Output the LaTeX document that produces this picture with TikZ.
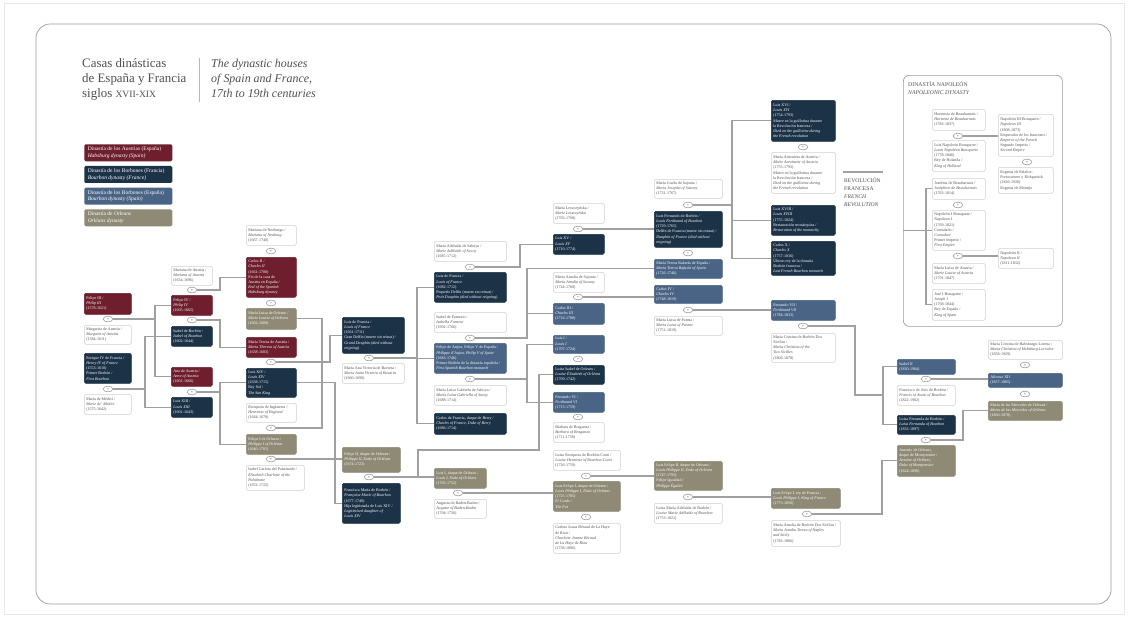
\documentclass[tikz,border=0pt]{standalone}
\usepackage{fontspec}
\setmainfont{Liberation Serif}
\newfontfamily\symfont{DejaVu Sans}
\usetikzlibrary{shapes.geometric,arrows.meta}
\definecolor{habs}{HTML}{6E1E2D}
\definecolor{bourf}{HTML}{1C3247}
\definecolor{bours}{HTML}{4A6485}
\definecolor{orlc}{HTML}{8F8A76}
\definecolor{cardline}{HTML}{D0D0D0}
\definecolor{cardtext}{HTML}{505050}
\definecolor{linkc}{HTML}{A0A0A0}
\definecolor{framec}{HTML}{9C9C9C}
\tikzset{
  card/.style={rectangle, rounded corners=1.2pt, inner sep=0pt, line width=0.45pt},
  hab/.style={card, fill=habs, draw=habs, text=white},
  bfr/.style={card, fill=bourf, draw=bourf, text=white},
  bes/.style={card, fill=bours, draw=bours, text=white},
  orl/.style={card, fill=orlc, draw=orlc, text=white},
  wht/.style={card, fill=white, draw=cardline, text=cardtext},
  lbl/.style={draw=none, fill=none, inner sep=0pt, anchor=west, align=left, font=\fontsize{3.45}{4.45}\selectfont},
  ring/.style={ellipse, draw=linkc, fill=white, line width=0.55pt, minimum width=0.29cm, minimum height=0.17cm, inner sep=0pt, text=linkc, font=\symfont\fontsize{3.2}{3.2}\selectfont},
  link/.style={draw=linkc, line width=1.05pt}
}
% one person: name, style, x1, y1, x2, y2, text
\def\famcard#1#2#3#4#5#6#7{
  \node[#2, anchor=north west, minimum width={(#5-#3)*0.03cm}, minimum height={(#6-#4)*0.03cm}] (#1) at (#3,#4) {};
  \node[#2, lbl] at ([xshift=1.7pt]#1.west) {#7};
}
\begin{document}
\begin{tikzpicture}[x=0.03cm, y=-0.03cm]
  \useasboundingbox (0,0) rectangle (1128,617);
  \fill[white] (0,0) rectangle (1128,617);
  \draw[gray!18, line width=0.5pt] (4,3) rectangle (1124,614);
  \draw[framec, line width=0.6pt, rounded corners=12pt] (36,24) rectangle (1111,604);

  % title
  \node[anchor=north west, align=left, inner sep=0pt, text=cardtext, font=\fontsize{11}{12.8}\selectfont] (titlees) at (82,58)
    {Casas dinásticas\\ de España y Francia\\ siglos {\fontsize{8.2}{8}\selectfont XVII-XIX}};
  \draw[cardline!70!gray, line width=0.6pt] (199,58) -- (199,102);
  \node[anchor=north west, align=left, inner sep=0pt, text=cardtext, font=\fontsize{10.2}{12.8}\selectfont\itshape] (titleen) at (211,59)
    {The dynastic houses\\ of Spain and France,\\ 17th to 19th centuries};

  % legend
  \foreach \c/\es/\en [count=\i] in {habs/Dinastía de los Austrias (España)/Habsburg dynasty (Spain),
      bourf/Dinastía de los Borbones (Francia)/Bourbon dynasty (France),
      bours/Dinastía de los Borbones (España)/Bourbon dynasty (Spain),
      orlc/Dinastía de Orleans/Orléans dynasty} {
    \node[card, fill=\c, anchor=north west, minimum width=88*0.03cm, minimum height=17*0.03cm] (leg\i) at (84,{144+(\i-1)*21.7}) {};
    \node[lbl, text=white, font=\fontsize{4.7}{5.8}\selectfont] at ([xshift=3pt]leg\i.west) {\es\\ \textit{\en}};
  }

  % Austrias and first Bourbons
  \famcard{fIII}{hab}{84}{293}{131}{314}{Felipe III /\\ \textit{Philip III}\\ (1578-1621)}
  \famcard{marg}{wht}{84}{325}{131}{344}{Margarita de Austria /\\ \textit{Margaret of Austria}\\ (1584-1611)}
  \famcard{enrIV}{bfr}{84}{353}{131}{383}{Enrique IV de Francia /\\ \textit{Henry IV of France}\\ (1553-1610)\\ Primer Borbón /\\ \textit{First Bourbon}}
  \famcard{medici}{wht}{84}{394}{131}{414}{María de Médici /\\ \textit{Marie de' Medici}\\ (1575-1642)}

  \famcard{mariana}{wht}{171}{266}{212}{285}{Mariana de Austria /\\ \textit{Mariana of Austria}\\ (1634-1696)}
  \famcard{fIV}{hab}{171}{295}{212}{315}{Felipe IV /\\ \textit{Philip IV}\\ (1605-1665)}
  \famcard{isabel}{bfr}{171}{326}{212}{346}{Isabel de Borbón /\\ \textit{Isabel of Bourbon}\\ (1602-1644)}
  \famcard{ana}{hab}{171}{367}{212}{386}{Ana de Austria /\\ \textit{Anne of Austria}\\ (1601-1666)}
  \famcard{lXIII}{bfr}{171}{397}{212}{417}{Luis XIII /\\ \textit{Louis XIII}\\ (1601-1643)}

  \famcard{neoburgo}{wht}{246}{225}{296}{245}{Mariana de Neoburgo /\\ \textit{Mariana of Neuburg}\\ (1667-1740)}
  \famcard{cII}{hab}{246}{257}{296}{297}{Carlos II /\\ \textit{Charles II}\\ (1661-1700)\\ Fin de la casa de\\ Austria en España /\\ \textit{End of the Spanish}\\ \textit{Habsburg dynasty}}
  \famcard{mlorl}{orl}{246}{308}{296}{329}{María Luisa de Orleans /\\ \textit{Marie Louise of Orléans}\\ (1662-1689)}
  \famcard{mteresa}{hab}{246}{337}{296}{357}{María Teresa de Austria /\\ \textit{Maria Theresa of Austria}\\ (1638-1683)}
  \famcard{lXIV}{bfr}{246}{368}{296}{397}{Luis XIV /\\ \textit{Louis XIV}\\ (1638-1715)\\ Rey Sol /\\ \textit{The Sun King}}
  \famcard{enriqueta}{wht}{246}{403}{296}{422}{Enriqueta de Inglaterra /\\ \textit{Henrietta of England}\\ (1644-1670)}
  \famcard{fOrl}{orl}{246}{434}{296}{454}{Felipe I de Orleans /\\ \textit{Philippe I of Orléans}\\ (1640-1701)}
  \famcard{palat}{wht}{246}{465}{304}{490}{Isabel Carlota del Palatinado /\\ \textit{Elizabeth Charlotte of the}\\ \textit{Palatinate}\\ (1652-1722)}

  \famcard{gdelfin}{bfr}{342}{317}{404}{353}{Luis de Francia /\\ \textit{Louis of France}\\ (1661-1711)\\ Gran Delfín (muere sin reinar) /\\ \textit{Grand Dauphin (died without}\\ \textit{reigning)}}
  \famcard{baviera}{wht}{342}{363}{404}{383}{María Ana Victoria de Baviera /\\ \textit{Maria Anna Victoria of Bavaria}\\ (1660-1690)}
  \famcard{fIIorl}{orl}{342}{447}{400}{472}{Felipe II, duque de Orleans /\\ \textit{Philippe II, Duke of Orléans}\\ (1674-1723)}
  \famcard{francisca}{bfr}{342}{483}{400}{523}{Francisca María de Borbón /\\ \textit{Françoise Marie of Bourbon}\\ (1677-1749)\\ Hija legitimada de Luis XIV /\\ \textit{Legitimised daughter of}\\ \textit{Louis XIV}}

  % Bourbons of France and Spain
  \famcard{adelaida}{wht}{434}{241}{506}{261}{María Adelaida de Saboya /\\ \textit{Marie Adélaïde of Savoy}\\ (1685-1712)}
  \famcard{borgona}{bfr}{434}{272}{506}{302}{Luis de Francia /\\ \textit{Louis of France}\\ (1682-1712)\\ Pequeño Delfín (muere sin reinar) /\\ \textit{Petit Dauphin (died without reigning)}}
  \famcard{farnesio}{wht}{434}{312}{506}{332}{Isabel de Farnesio /\\ \textit{Isabella Farnese}\\ (1692-1766)}
  \famcard{fV}{bes}{434}{343}{506}{373}{Felipe de Anjou, Felipe V de España /\\ \textit{Philippe d'Anjou, Philip V of Spain}\\ (1683-1746)\\ Primer Borbón de la dinastía española /\\ \textit{First Spanish Bourbon monarch}}
  \famcard{gabriela}{wht}{434}{385}{506}{405}{María Luisa Gabriela de Saboya /\\ \textit{Maria Luisa Gabriella of Savoy}\\ (1688-1714)}
  \famcard{berry}{bfr}{434}{413}{506}{434}{Carlos de Francia, duque de Berry /\\ \textit{Charles of France, Duke of Berry}\\ (1686-1714)}
  \famcard{lIorl}{orl}{434}{468}{486}{488}{Luis I, duque de Orleans /\\ \textit{Louis I, Duke of Orléans}\\ (1703-1752)}
  \famcard{baden}{wht}{434}{499}{486}{518}{Augusta de Baden-Baden /\\ \textit{Auguste of Baden-Baden}\\ (1704-1726)}

  \famcard{leszczynska}{wht}{553}{203}{604}{223}{María Leszczyńska /\\ \textit{Marie Leszczyńska}\\ (1703-1768)}
  \famcard{lXV}{bfr}{553}{234}{604}{254}{Luis XV /\\ \textit{Louis XV}\\ (1710-1774)}
  \famcard{amalia}{wht}{553}{272}{604}{292}{María Amalia de Sajonia /\\ \textit{Maria Amalia of Saxony}\\ (1724-1760)}
  \famcard{cIII}{bes}{553}{303}{604}{324}{Carlos III /\\ \textit{Charles III}\\ (1716-1788)}
  \famcard{lI}{bes}{553}{335}{604}{353}{Luis I /\\ \textit{Louis I}\\ (1707-1724)}
  \famcard{lisabel}{bfr}{553}{365}{604}{384}{Luisa Isabel de Orleans /\\ \textit{Louise Élisabeth of Orléans}\\ (1709-1742)}
  \famcard{fVI}{bes}{553}{392}{604}{412}{Fernando VI /\\ \textit{Ferdinand VI}\\ (1713-1759)}
  \famcard{braganza}{wht}{553}{422}{604}{442}{Bárbara de Braganza /\\ \textit{Barbara of Braganza}\\ (1711-1758)}
  \famcard{conti}{wht}{553}{450}{620}{470}{Luisa Enriqueta de Borbón-Conti /\\ \textit{Louise Henriette of Bourbon-Conti}\\ (1726-1759)}
  \famcard{lfI}{orl}{553}{481}{620}{511}{Luis Felipe I, duque de Orleans /\\ \textit{Louis Philippe I, Duke of Orléans}\\ (1725-1785)\\ El Gordo /\\ \textit{The Fat}}
  \famcard{montesson}{wht}{553}{523}{620}{553}{Carlota Juana Béraud de La Haye\\ de Riou /\\ \textit{Charlotte Jeanne Béraud}\\ \textit{de La Haye de Riou}\\ (1738-1806)}

  \famcard{josefa}{wht}{654}{179}{722}{198}{María Josefa de Sajonia /\\ \textit{Maria Josepha of Saxony}\\ (1731-1767)}
  \famcard{lfernando}{bfr}{654}{211}{722}{247}{Luis Fernando de Borbón /\\ \textit{Louis Ferdinand of Bourbon}\\ (1729-1765)\\ Delfín de Francia (muere sin reinar) /\\ \textit{Dauphin of France (died without}\\ \textit{reigning)}}
  \famcard{mtrafaela}{bes}{654}{259}{722}{278}{María Teresa Rafaela de España /\\ \textit{Maria Teresa Rafaela of Spain}\\ (1726-1746)}
  \famcard{cIV}{bes}{654}{285}{722}{303}{Carlos IV /\\ \textit{Charles IV}\\ (1748-1819)}
  \famcard{parma}{wht}{654}{316}{722}{335}{María Luisa de Parma /\\ \textit{Maria Luisa of Parma}\\ (1751-1819)}
  \famcard{lfII}{orl}{654}{461}{722}{490}{Luis Felipe II, duque de Orleans /\\ \textit{Louis Philippe II, Duke of Orléans}\\ (1747-1793)\\ Felipe Igualdad /\\ \textit{Philippe Égalité}}
  \famcard{penthievre}{wht}{654}{503}{722}{523}{Luisa María Adelaida de Borbón /\\ \textit{Louise Marie Adélaïde of Bourbon}\\ (1753-1821)}

  \famcard{lXVI}{bfr}{771}{100}{835}{141}{Luis XVI /\\ \textit{Louis XVI}\\ (1754-1793)\\ Muere en la guillotina durante\\ la Revolución francesa /\\ \textit{Died on the guillotine during}\\ \textit{the French revolution}}
  \famcard{antonieta}{wht}{771}{152}{835}{193}{María Antonieta de Austria /\\ \textit{Marie Antoinette of Austria}\\ (1755-1793)\\ Muere en la guillotina durante\\ la Revolución francesa /\\ \textit{Died on the guillotine during}\\ \textit{the French revolution}}
  \famcard{lXVIII}{bfr}{771}{205}{835}{235}{Luis XVIII /\\ \textit{Louis XVIII}\\ (1755-1824)\\ Restauración monárquica /\\ \textit{Restoration of the monarchy}}
  \famcard{cX}{bfr}{771}{241}{835}{275}{Carlos X /\\ \textit{Charles X}\\ (1757-1836)\\ Último rey de la dinastía\\ Borbón francesa /\\ \textit{Last French Bourbon monarch}}
  \famcard{fVII}{bes}{771}{300}{835}{320}{Fernando VII /\\ \textit{Ferdinand VII}\\ (1784-1833)}
  \famcard{cristina}{wht}{771}{333}{835}{362}{María Cristina de Borbón Dos\\ Sicilias /\\ \textit{Maria Christina of the}\\ \textit{Two Sicilies}\\ (1806-1878)}
  \famcard{lfrey}{orl}{771}{488}{840}{508}{Luis Felipe I, rey de Francia /\\ \textit{Louis Philippe I, King of France}\\ (1773-1850)}
  \famcard{amalianap}{wht}{771}{520}{840}{546}{María Amalia de Borbón Dos Sicilias /\\ \textit{Maria Amalia Teresa of Naples}\\ \textit{and Sicily}\\ (1782-1866)}

  \famcard{isabelII}{bes}{897}{359}{955}{374}{Isabel II\\ (1830-1904)}
  \famcard{fasis}{wht}{897}{385}{955}{405}{Francisco de Asís de Borbón /\\ \textit{Francis of Assisi of Bourbon}\\ (1822-1902)}
  \famcard{lfernanda}{bfr}{897}{415}{955}{434}{Luisa Fernanda de Borbón /\\ \textit{Luisa Fernanda of Bourbon}\\ (1832-1897)}
  \famcard{montpensier}{orl}{897}{445}{955}{476}{Antonio de Orleans,\\ duque de Montpensier /\\ \textit{Antoine of Orléans,}\\ \textit{Duke of Montpensier}\\ (1824-1890)}
  \famcard{mchabs}{wht}{988}{340}{1062}{359}{María Cristina de Habsburgo-Lorena /\\ \textit{Maria Christina of Habsburg-Lorraine}\\ (1858-1929)}
  \famcard{alfXII}{bes}{988}{373}{1062}{387}{Alfonso XII\\ (1857-1885)}
  \famcard{mercedes}{orl}{988}{401}{1062}{420}{María de las Mercedes de Orleans /\\ \textit{Maria de las Mercedes of Orléans}\\ (1860-1878)}

  % revolution and Napoleonic dynasty
  \coordinate (revA) at (843,172);
  \coordinate (revB) at (883,172);
  \draw[link] (revA) -- (revB);
  \node[anchor=north west, align=left, inner sep=0pt, text=cardtext, font=\fontsize{4.8}{6.9}\selectfont] (rev) at (844,177)
    {REVOLUCIÓN\\ FRANCESA\\ \textit{FRENCH}\\ \textit{REVOLUTION}};
  \node[draw=framec, line width=0.6pt, rounded corners=5pt, anchor=north west, minimum width=159*0.03cm, minimum height=251*0.03cm] (napframe) at (903,75) {};
  \node[anchor=north west, align=left, inner sep=0pt, text=cardtext, font=\fontsize{4.9}{7}\selectfont] (naptitle) at (908,81)
    {DINASTÍA NAPOLEÓN\\ \textit{NAPOLEONIC DYNASTY}};
  \famcard{hortensia}{wht}{932}{109}{985}{130}{Hortensia de Beauharnais /\\ \textit{Hortense de Beauharnais}\\ (1783-1837)}
  \famcard{luisnap}{wht}{932}{140}{985}{171}{Luis Napoleón Bonaparte /\\ \textit{Louis Napoléon Bonaparte}\\ (1778-1846)\\ Rey de Holanda /\\ \textit{King of Holland}}
  \famcard{josefina}{wht}{932}{178}{985}{199}{Josefina de Beauharnais /\\ \textit{Joséphine de Beauharnais}\\ (1763-1814)}
  \famcard{napI}{wht}{932}{210}{985}{250}{Napoleón I Bonaparte /\\ \textit{Napoleon I}\\ (1769-1821)\\ Consulado /\\ \textit{Consulate}\\ Primer Imperio /\\ \textit{First Empire}}
  \famcard{mlaustria}{wht}{932}{263}{985}{283}{María Luisa de Austria /\\ \textit{Marie Louise of Austria}\\ (1791-1847)}
  \famcard{jose}{wht}{932}{289}{985}{320}{José I Bonaparte /\\ \textit{Joseph I}\\ (1768-1844)\\ Rey de España /\\ \textit{King of Spain}}
  \famcard{napIII}{wht}{998}{114}{1053}{156}{Napoleón III Bonaparte /\\ \textit{Napoleon III}\\ (1808-1873)\\ Emperador de los franceses /\\ \textit{Emperor of the French}\\ Segundo Imperio /\\ \textit{Second Empire}}
  \famcard{eugenia}{wht}{998}{167}{1053}{193}{Eugenia de Palafox-\\ Portocarrero y Kirkpatrick\\ (1826-1920)\\ Eugenia de Montijo}
  \famcard{napII}{wht}{998}{248}{1053}{268}{Napoleón II /\\ \textit{Napoleon II}\\ (1811-1832)}

  % marriages
  \foreach \n/\x/\y in {rA1/108/319, rA2/108/389, rB1/192/290, rB2/192/320, rB3/192/392,
      rC0/271/251, rC1/271/303, rC2/271/362, rC3/271/428, rC4/271/459, rD1/369/358, rD2/369/477,
      rE1/470/267, rE2/470/338, rE3/470/379, rE4/458/493, rF1/578/229, rF2/578/297, rF3/578/359,
      rF4/578/417, rF5/586/476, rF6/586/517, rG1/688/205, rG2/688/253, rG3/688/310, rG4/688/497,
      rH1/803/147, rH2/803/326, rH3/807/514, rI1/926/379, rI2/926/440, rJ1/1025/365, rJ2/1025/394,
      rN1/958/136, rN2/958/205, rN3/958/256, rN4/1027/162}
    \node[ring] (\n) at (\x,\y) {⚭};

  % descent
  \coordinate (bA1) at (155,0);
  \draw[link] (rA1.east) -- (bA1 |- rA1.east);
  \draw[link] (fIV.west) -| (bA1 |- ana.west) -- (ana.west);
  \coordinate (bA2) at (145,0);
  \draw[link] (rA2.east) -- (bA2 |- rA2.east);
  \draw[link] (isabel.west) -| (bA2 |- lXIII.west) -- (lXIII.west);
  \coordinate (bB) at (220,0);
  \draw[link] (rB1.east) -| (bB |- cII.west) -- (cII.west);
  \draw[link] (rB2.east) -| (bB |- mteresa.west) -- (mteresa.west);
  \draw[link] (rB3.east) -- (bB |- rB3.east);
  \draw[link] (lXIV.west) -| (bB |- fOrl.west) -- (fOrl.west);
  \coordinate (bC2) at (330,0);
  \draw[link] (rC2.east) -| (bC2 |- gdelfin.west) -- (gdelfin.west);
  \coordinate (bC3) at (322,0);
  \draw[link] (rC3.east) -| (bC3 |- mlorl.east) -- (mlorl.east);
  \coordinate (bC4) at (335,0);
  \draw[link] (lXIV.east) -| (bC4 |- francisca.west) -- (francisca.west);
  \draw[link] (rC4.east) -- (fIIorl.west |- rC4.east);
  \coordinate (bD1) at (417,0);
  \draw[link] (rD1.east) -- (bD1 |- rD1.east);
  \draw[link] (borgona.west) -| (bD1 |- berry.west) -- (berry.west);
  \draw[link] (fV.west) -- (bD1 |- fV.west);
  \coordinate (bD2) at (418,0);
  \coordinate (kD2) at (539,450);
  \draw[link] (rD2.east) -- (lIorl.west |- rD2.east);
  \draw[link] (bD2 |- rD2.east) |- (kD2) |- (lisabel.west);
  \coordinate (bE1) at (520,0);
  \draw[link] (rE1.east) -| (bE1 |- lXV.west) -- (lXV.west);
  \coordinate (bE2) at (527,0);
  \draw[link] (rE2.east) -| (bE2 |- mtrafaela.west) -- (mtrafaela.west);
  \draw[link] (cIII.west) -- (bE2 |- cIII.west);
  \draw[link] (rE3.east) -- (bE2 |- rE3.east);
  \draw[link] (lI.west) -| (bE2 |- fVI.west) -- (fVI.west);
  \draw[link] (rE4.east) -- (lfI.west |- rE4.east);
  \draw[link] (rF1.east) -- (lfernando.west |- rF1.east);
  \draw[link] (rF2.east) -- (cIV.west |- rF2.east);
  \draw[link] (rF5.east) -- (lfII.west |- rF5.east);
  \coordinate (bG1) at (732,0);
  \draw[link] (rG1.east) -- (bG1 |- rG1.east);
  \draw[link] (lXVI.west) -| (bG1 |- cX.west) -- (cX.west);
  \draw[link] (lXVIII.west) -- (bG1 |- lXVIII.west);
  \draw[link] (rG3.east) -- (fVII.west |- rG3.east);
  \draw[link] (rG4.east) -- (lfrey.west |- rG4.east);
  \coordinate (kH2) at (855,395);
  \coordinate (bH2) at (883,0);
  \draw[link] (rH2.east) -| (kH2) -- (bH2 |- kH2);
  \draw[link] (isabelII.west) -| (bH2 |- lfernanda.west) -- (lfernanda.west);
  \coordinate (bH3) at (882,0);
  \draw[link] (rH3.east) -| (bH3 |- montpensier.west) -- (montpensier.west);
  \draw[link] (rI1.east) -- (alfXII.west |- rI1.east);
  \coordinate (bI2) at (963,0);
  \draw[link] (rI2.east) -| (bI2 |- mercedes.west) -- (mercedes.west);
  \draw[link] (rN1.east) -- (napIII.west |- rN1.east);
  \draw[link] (rN3.east) -- (napII.west |- rN3.east);
  \coordinate (bN) at (926,0);
  \draw[link] (josefina.west) -| (bN |- jose.west) -- (jose.west);
  \draw[link] (napframe.west |- napI.west) -- (napI.west);
\end{tikzpicture}
\end{document}
